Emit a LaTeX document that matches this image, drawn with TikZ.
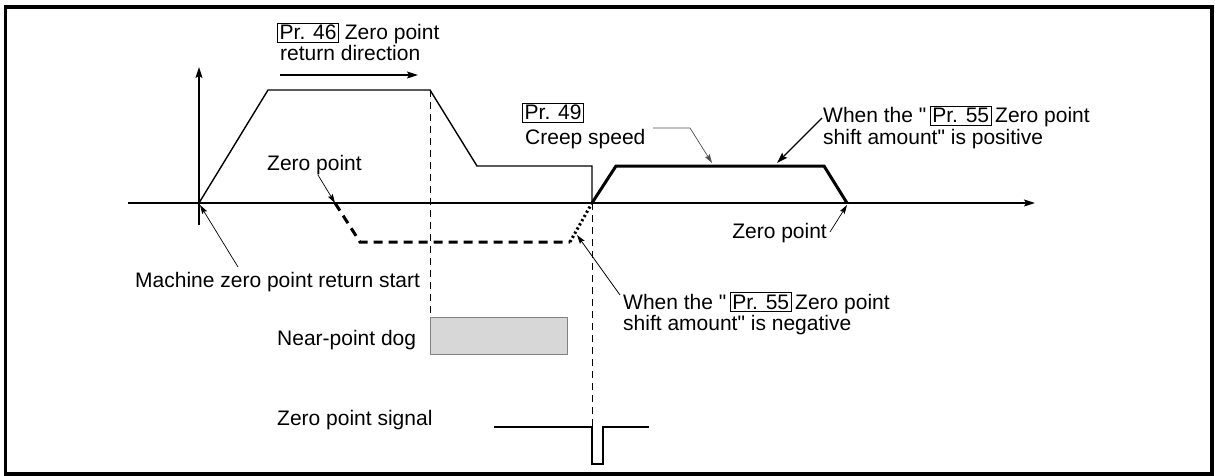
\documentclass[tikz,border=0pt]{standalone}
\usepackage{fontspec}
\setmainfont{Liberation Sans}[Ligatures=TeXOff]
\usetikzlibrary{arrows.meta}
\newcommand\prbox[1]{{\setlength\fboxsep{1.6pt}\setlength\fboxrule{0.9pt}\fbox{#1}}}
\tikzset{
  lbl/.style={inner sep=0pt, anchor=base west, font=\fontsize{21}{21}\selectfont},
  thin/.style={line width=1.3pt},
  prof/.style={line width=1.4pt, line join=miter},
  thick/.style={line width=3pt, line join=miter},
  tip/.style={-{Stealth[length=11pt,width=7pt,inset=2pt]}},
  smalltip/.style={-{Stealth[length=9pt,width=5.5pt,inset=1.5pt]}},
  leader/.style={line width=0.7pt},
  vdash/.style={line width=1pt, dash pattern=on 7pt off 5pt},
}
\begin{document}
\begin{tikzpicture}[x=1pt,y=-1pt]
\useasboundingbox (0,0) rectangle (1215,476);
\draw[line width=3.2pt] (5.5,7) rectangle (1212,474);

% axes
\coordinate (ax0) at (128,203);
\coordinate (ax1) at (1035,203);
\coordinate (ay0) at (199,225);
\coordinate (ay1) at (199,67);
\draw[thin,tip] (ax0) -- (ax1);
\draw[thin,tip] (ay0) -- (ay1);

% speed profile
\coordinate (O) at (199,203);
\coordinate (p1) at (268,90);
\coordinate (p2) at (430,90);
\coordinate (p3) at (477,166);
\coordinate (p4) at (592,166);
\coordinate (p5) at (592,203);
\draw[prof] (O) -- (p1) -- (p2) -- (p3) -- (p4) -- (p5);
\coordinate (q1) at (616,166);
\coordinate (q2) at (824,166);
\coordinate (q3) at (847,203);
\draw[thick] (p5) -- (q1) -- (q2) -- (q3);

% negative shift
\coordinate (n0) at (335,203);
\coordinate (n1) at (360,242);
\coordinate (n2) at (570,242);
\draw[thick, dash pattern=on 9pt off 6pt] (n0) -- (n1) -- (n2);
\draw[thick, dash pattern=on 2.2pt off 2.6pt] (n2) -- (p5);

% dashed verticals
\coordinate (d1) at (430,317);
\coordinate (d2) at (592,427);
\draw[vdash] (p2) -- (d1);
\draw[vdash] (p5) -- (d2);

% near-point dog
\node[draw={rgb,255:red,130;green,130;blue,130}, line width=0.8pt, fill={rgb,255:red,215;green,215;blue,215}, minimum width=137pt, minimum height=37pt, inner sep=0pt, anchor=north west] (dog) at (430,317) {};

% zero point signal
\coordinate (s0) at (494,427);
\coordinate (s1) at (592,464);
\coordinate (s2) at (603,464);
\coordinate (s3) at (603,427);
\coordinate (s4) at (649,427);
\draw[prof] (s0) -- (d2) -- (s1) -- (s2) -- (s3) -- (s4);

% direction arrow
\coordinate (r0) at (280,75);
\coordinate (r1) at (418,75);
\draw[thin,tip] (r0) -- (r1);

% labels
\node[lbl] (pr46) at (277,40) {\prbox{Pr. 46} Zero point};
\node[lbl] (ret) at (280,61) {return direction};
\node[lbl] (zpa) at (267,170) {Zero point};
\node[lbl] (mzr) at (135,287) {Machine zero point return start};
\node[lbl] (npd) at (277,345) {Near-point dog};
\node[lbl] (zps) at (277,425) {Zero point signal};
\node[lbl] (pr49) at (522,120) {\prbox{Pr. 49}};
\node[lbl] (creep) at (525,145) {Creep speed};
\node[lbl] (pos1) at (823,123) {When the "\,\prbox{Pr. 55}\,Zero point};
\node[lbl] (pos2) at (823,144) {shift amount" is positive};
\node[lbl, anchor=base east] (zpb) at (827,238) {Zero point};
\node[lbl] (neg1) at (623,309) {When the "\,\prbox{Pr. 55}\,Zero point};
\node[lbl] (neg2) at (623,330) {shift amount" is negative};

% leaders
\coordinate (l1) at (318,175);
\draw[leader,smalltip] (l1) -- (n0);
\coordinate (l2) at (238,267);
\coordinate (l2t) at (200,205);
\draw[leader,smalltip] (l2) -- (l2t);
\coordinate (l3a) at (653,128);
\coordinate (l3b) at (690,128);
\coordinate (l3t) at (712,163);
\draw[leader, draw={rgb,255:red,80;green,80;blue,80}, smalltip] (l3a) -- (l3b) -- (l3t);
\coordinate (l4) at (822,118);
\coordinate (l4t) at (777,163);
\draw[line width=1.2pt, tip] (l4) -- (l4t);
\coordinate (l5) at (830,232);
\coordinate (l5t) at (847,205);
\draw[leader,smalltip] (l5) -- (l5t);
\coordinate (l6) at (620,295);
\coordinate (l6t) at (577,235);
\draw[line width=0.8pt,smalltip] (l6) -- (l6t);
\end{tikzpicture}
\end{document}
